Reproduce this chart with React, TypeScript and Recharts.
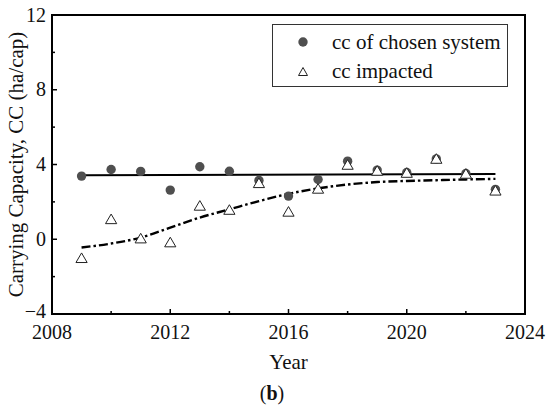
import React from 'react';
import {
  ComposedChart,
  Line,
  Scatter,
  XAxis,
  YAxis,
  ReferenceArea,
  Customized,
} from 'recharts';

const years = [2009, 2010, 2011, 2012, 2013, 2014, 2015, 2016, 2017, 2018, 2019, 2020, 2021, 2022, 2023];
const ccChosen = [3.38, 3.73, 3.63, 2.63, 3.88, 3.64, 3.15, 2.31, 3.2, 4.18, 3.7, 3.57, 4.3, 3.52, 2.67];
const ccImpacted = [-1.01, 1.07, 0.04, -0.17, 1.79, 1.57, 3.0, 1.47, 2.7, 3.98, 3.66, 3.55, 4.3, 3.5, 2.6];

const fitYears = [2009, 2023];
const fitChosen = [3.43, 3.49];

const trendImpacted = [-0.44, -0.23, 0.09, 0.62, 1.16, 1.6, 2.04, 2.43, 2.72, 2.93, 3.06, 3.12, 3.16, 3.2, 3.23];

const xTicks = [2008, 2010, 2012, 2014, 2016, 2018, 2020, 2022, 2024];
const yTicks = [-4, -2, 0, 2, 4, 6, 8, 10, 12];

const seriesNames = ['cc of chosen system', 'cc impacted'];

const FONT = "'Liberation Serif', 'Times New Roman', serif";
const DOT_COLOR = '#4f4f4f';

const chosenPts = years.map((y, i) => ({ year: y, cc: ccChosen[i] }));
const impactedPts = years.map((y, i) => ({ year: y, cc: ccImpacted[i] }));
const fitPts = fitYears.map((y, i) => ({ year: y, v: fitChosen[i] }));
const trendPts = years.map((y, i) => ({ year: y, v: trendImpacted[i] }));

const fmt = (v: number) => (v < 0 ? '\u2212' + Math.abs(v) : String(v));

const XTick = (props: any) => {
  const { x, y, payload } = props;
  const v = payload.value;
  const major = v % 4 === 0;
  return (
    <g>
      <line x1={x} x2={x} y1={y} y2={y - (major ? 5 : 3)} stroke="#000" strokeWidth={1.5} />
      {major && (
        <text x={x} y={y + 25} textAnchor="middle" fontSize={20} fontFamily={FONT} fill="#111">
          {fmt(v)}
        </text>
      )}
    </g>
  );
};

const YTick = (props: any) => {
  const { x, y, payload } = props;
  const v = payload.value;
  const major = v % 4 === 0;
  return (
    <g>
      <line x1={x} x2={x + (major ? 5 : 3)} y1={y} y2={y} stroke="#000" strokeWidth={1.5} />
      {major && (
        <text x={x - 6} y={y + (v === -4 ? 4 : 6.5)} textAnchor="end" fontSize={20} fontFamily={FONT} fill="#111">
          {fmt(v)}
        </text>
      )}
    </g>
  );
};

const CircleShape = (p: any) => <circle cx={p.cx} cy={p.cy} r={4.7} fill={DOT_COLOR} />;

const TriShape = (p: any) => {
  const { cx, cy } = p;
  const pts = `${cx},${cy - 5.2} ${cx - 5.6},${cy + 4.4} ${cx + 5.6},${cy + 4.4}`;
  return <polygon points={pts} fill="#fff" stroke="#222" strokeWidth={1} />;
};

const Caption = () => (
  <text x={272} y={400} textAnchor="middle" fontSize={20} fontFamily={FONT} fill="#111">
    (<tspan fontWeight="bold">b</tspan>)
  </text>
);

const LegendBox = () => (
  <div
    style={{
      position: 'absolute',
      left: 272,
      top: 24,
      width: 234,
      height: 61,
      border: '1px solid #333',
      background: '#fff',
      fontFamily: FONT,
      fontSize: 21,
      color: '#111',
    }}
  >
    <svg width={20} height={20} style={{ position: 'absolute', left: 20, top: 7 }}>
      <circle cx={10} cy={10} r={4.7} fill={DOT_COLOR} />
    </svg>
    <svg width={20} height={20} style={{ position: 'absolute', left: 20, top: 37 }}>
      <polygon points="10,5.5 5.5,13.5 14.5,13.5" fill="#fff" stroke="#222" strokeWidth={1} />
    </svg>
    <div style={{ position: 'absolute', left: 59, top: 5, whiteSpace: 'nowrap', lineHeight: '24px' }}>
      {seriesNames[0]}
    </div>
    <div style={{ position: 'absolute', left: 59, top: 34, whiteSpace: 'nowrap', lineHeight: '24px' }}>
      {seriesNames[1]}
    </div>
  </div>
);

export default function App() {
  return (
    <div style={{ position: 'absolute', left: 0, top: 0, width: 550, height: 407, background: '#fff' }}>
      <ComposedChart width={550} height={407} margin={{ top: 15, right: 25, bottom: 0, left: 0 }}>
        <XAxis
          dataKey="year"
          type="number"
          domain={[2008, 2024]}
          ticks={xTicks}
          interval={0}
          tickSize={0}
          tickMargin={0}
          tickLine={false}
          tick={<XTick />}
          axisLine={{ stroke: '#000', strokeWidth: 2 }}
          height={93}
          allowDataOverflow
          label={{
            value: 'Year',
            position: 'insideTop',
            offset: 40,
            fontSize: 21,
            fontFamily: FONT,
            fill: '#111',
          }}
        />
        <YAxis
          type="number"
          domain={[-4, 12]}
          ticks={yTicks}
          interval={0}
          tickSize={0}
          tickMargin={0}
          tickLine={false}
          tick={<YTick />}
          axisLine={{ stroke: '#000', strokeWidth: 2 }}
          width={52}
          allowDataOverflow
          label={{
            value: 'Carrying Capacity, CC (ha/cap)',
            angle: -90,
            position: 'insideLeft',
            offset: 16,
            fontSize: 21,
            fontFamily: FONT,
            fill: '#111',
            style: { textAnchor: 'middle' },
          }}
        />
        <ReferenceArea x1={2008} x2={2024} y1={-4} y2={12} fill="none" stroke="#000" strokeWidth={2} />
        <Line
          data={fitPts}
          dataKey="v"
          type="linear"
          stroke="#000"
          strokeWidth={2}
          dot={false}
          activeDot={false}
          isAnimationActive={false}
        />
        <Line
          data={trendPts}
          dataKey="v"
          type="monotone"
          stroke="#000"
          strokeWidth={2.4}
          strokeDasharray="9 3 2.5 3"
          dot={false}
          activeDot={false}
          isAnimationActive={false}
        />
        <Scatter data={chosenPts} dataKey="cc" shape={CircleShape} isAnimationActive={false} />
        <Scatter data={impactedPts} dataKey="cc" shape={TriShape} isAnimationActive={false} />
        <Customized component={<Caption />} />
      </ComposedChart>
      <LegendBox />
    </div>
  );
}
